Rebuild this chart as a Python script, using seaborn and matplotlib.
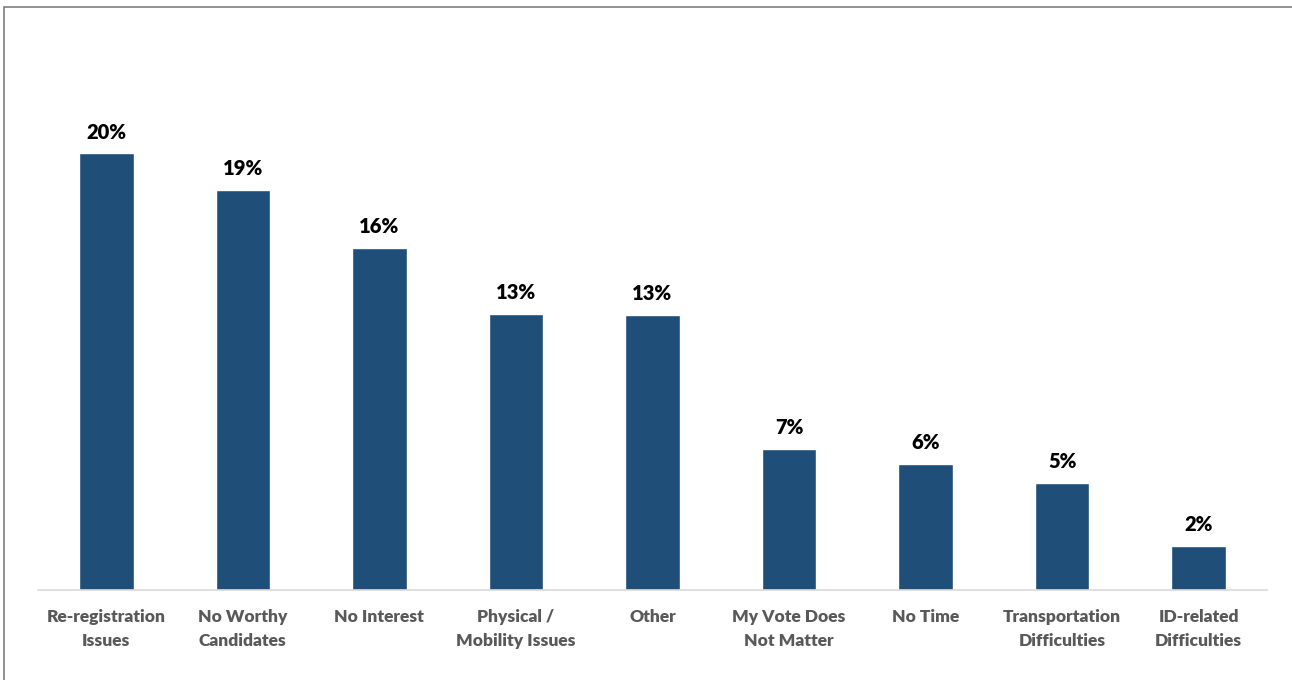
import numpy as np
import pandas as pd
import seaborn as sns
import matplotlib.pyplot as plt
from matplotlib.patches import Rectangle

categories = ["Re-registration\nIssues", "No Worthy\nCandidates", "No Interest",
              "Physical /\nMobility Issues", "Other", "My Vote Does\nNot Matter",
              "No Time", "Transportation\nDifficulties", "ID-related\nDifficulties"]
values = [20.4, 18.7, 16.0, 12.9, 12.85, 6.6, 5.9, 5.0, 2.06]

df = pd.DataFrame({"reason": categories, "pct": values})

sns.set_style("white")
plt.rcParams['font.family'] = ['Lato', 'DejaVu Sans']

fig = plt.figure(figsize=(12.92, 6.8), dpi=100)
ax = fig.add_axes([38/1292, 90/680, (1267-38)/1292, (590-50)/680])

sns.barplot(data=df, x="reason", y="pct", color="#1F4E79", width=0.4,
            saturation=1, ax=ax)

ax.set_xlim(-0.5, 8.5)
ax.set_ylim(0, (590-50)/21.4)
ax.set_xlabel("")
ax.set_ylabel("")
ax.set_yticks([])
for s in ["top", "right", "left"]:
    ax.spines[s].set_visible(False)
ax.spines["bottom"].set_color("#D9D9D9")
ax.spines["bottom"].set_linewidth(1.2)
ax.tick_params(axis="x", length=0, pad=14)
for lbl in ax.get_xticklabels():
    lbl.set_fontsize(12.5)
    lbl.set_fontweight("heavy")
    lbl.set_color("#595959")
    lbl.set_linespacing(1.55)

for i, v in enumerate(values):
    ax.text(i, v + 0.55, f"{round(v):d}%", ha="center", va="bottom",
            fontsize=14.5, fontweight="heavy", color="black")

fig.patches.append(Rectangle((4/1292, -0.1), 1.1, (680-7)/680 + 0.1,
                             transform=fig.transFigure, fill=False,
                             edgecolor="#7F7F7F", linewidth=1.2))

fig.savefig("out.png", dpi=100)
